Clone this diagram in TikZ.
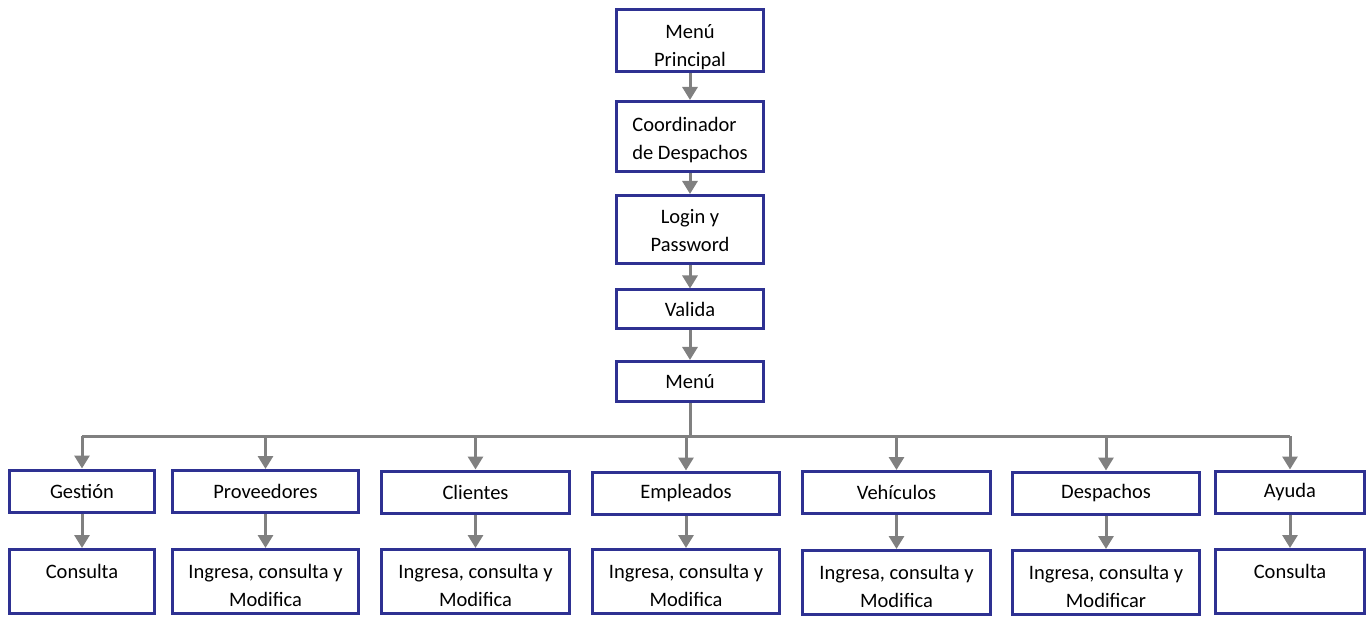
\documentclass[tikz,border=0pt]{standalone}
\usepackage{fontspec}
\setmainfont{Carlito}
\usetikzlibrary{arrows.meta}
\definecolor{boxblue}{RGB}{46,49,146}
\definecolor{conngray}{RGB}{128,128,128}
\newcommand\twolines[3]{\raisebox{-#1}[\height][\depth]{\begin{tabular}{@{}#2@{}}#3\end{tabular}}}
\tikzset{
  box/.style={draw=boxblue, line width=3pt, fill=white, inner sep=2pt,
    font=\fontsize{20.5}{28}\selectfont, align=center},
  conn/.style={draw=conngray, line width=3pt},
  arr/.style={conn, -{Triangle[width=15pt,length=13pt]}},
}
\begin{document}
\begin{tikzpicture}[x=1pt,y=-1pt]
\useasboundingbox (0,0) rectangle (1368,617);
% main column
\node[box, minimum width=147pt, minimum height=62pt] (mp) at (690,40.5) {\twolines{6pt}{c}{Menú\\Principal}};
\node[box, minimum width=147pt, minimum height=70pt] (cd) at (690,136.5) {\twolines{3.5pt}{l}{Coordinador\\de Despachos}};
\node[box, minimum width=147pt, minimum height=68pt] (lp) at (690,229.5) {\twolines{2pt}{c}{Login y\\Password}};
\node[box, minimum width=147pt, minimum height=39pt] (va) at (690,309.5) {Valida};
\node[box, minimum width=147pt, minimum height=40pt] (me) at (690,381.5) {Menú};
\coordinate (bus) at (690,436);
% first row
\node[box, minimum width=145pt, minimum height=42pt] (g1) at (82,491) {Gestión};
\node[box, minimum width=186pt, minimum height=42pt] (g2) at (265.5,491.5) {Proveedores};
\node[box, minimum width=188pt, minimum height=42pt] (g3) at (475.5,492) {Clientes};
\node[box, minimum width=187pt, minimum height=42pt] (g4) at (686,493) {Empleados};
\node[box, minimum width=188pt, minimum height=42pt] (g5) at (896.5,492.5) {Vehículos};
\node[box, minimum width=187pt, minimum height=42pt] (g6) at (1106,493) {Despachos};
\node[box, minimum width=149pt, minimum height=42pt] (g7) at (1290,492) {Ayuda};
% second row
\node[box, minimum width=145pt, minimum height=64pt] (s1) at (82,581.5) {\twolines{5pt}{c}{Consulta\\\mbox{}}};
\node[box, minimum width=186pt, minimum height=64pt] (s2) at (265.5,581.5) {\twolines{5pt}{c}{Ingresa, consulta y\\Modifica}};
\node[box, minimum width=188pt, minimum height=64pt] (s3) at (475.5,581.5) {\twolines{5pt}{c}{Ingresa, consulta y\\Modifica}};
\node[box, minimum width=187pt, minimum height=64pt] (s4) at (686,581.5) {\twolines{5pt}{c}{Ingresa, consulta y\\Modifica}};
\node[box, minimum width=188pt, minimum height=64pt] (s5) at (896.5,582.5) {\twolines{5pt}{c}{Ingresa, consulta y\\Modifica}};
\node[box, minimum width=187pt, minimum height=64pt] (s6) at (1106,582.5) {\twolines{5pt}{c}{Ingresa, consulta y\\Modificar}};
\node[box, minimum width=149pt, minimum height=64pt] (s7) at (1290,581.5) {\twolines{5pt}{c}{Consulta\\\mbox{}}};
% connectors
\draw[arr] (mp) -- (cd);
\draw[arr] (cd) -- (lp);
\draw[arr] (lp) -- (va);
\draw[arr] (va) -- (me);
\draw[conn] (me.south) -- (bus);
\draw[conn] (g1.north |- bus) -- (g7.north |- bus);
\foreach \i in {1,...,7} {
  \draw[arr] (g\i.north |- bus) -- (g\i.north);
  \draw[arr] (g\i) -- (s\i);
}
\end{tikzpicture}
\end{document}
